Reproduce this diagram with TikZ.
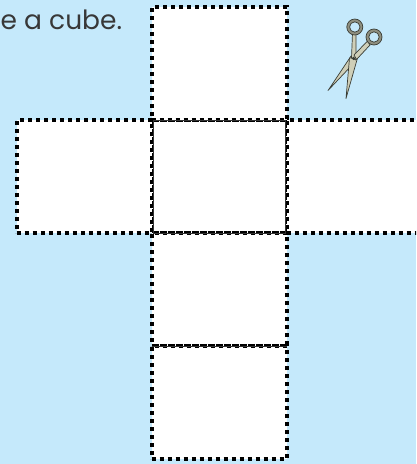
\documentclass[tikz,border=0pt]{standalone}
\usepackage{fontspec}
\setmainfont{Poppins}
\usetikzlibrary{positioning}
\definecolor{sheetblue}{HTML}{C5E9FB}
\definecolor{steelgrey}{HTML}{8F9080}
\definecolor{steelpale}{HTML}{CFCFB8}
\definecolor{steeldark}{HTML}{3A3D35}
\tikzset{
    facebox/.style={draw, fill=white, dashed, dash pattern=on 4pt off 4pt, line width=4pt, outer sep=0pt, inner sep=0pt, minimum width=135pt, minimum height=113pt},
    foldline/.style={draw=black!80, line width=1pt},
    steel/.style={fill=steelgrey, draw=steeldark, line width=0.7pt, line join=round}
}
\begin{document}
\begin{tikzpicture}[x=1pt, y=-1pt]
        % 画布
        \clip (0,0) rectangle (416,464);
        \fill[sheetblue] (0,0) rectangle (416,464);

        % 标题
        \node[anchor=base west, inner sep=0pt, text=black!78, font=\fontsize{26.5}{32}\selectfont] (title) at (0.5,29.5) {e a cube.};

        % 展开图
        \node[facebox] (midface) at (219.2,176.5) {};
        \node[facebox, above=0pt of midface] (topface) {};
        \node[facebox, left=0pt of midface] (leftface) {};
        \node[facebox, right=0pt of midface] (rightface) {};
        \node[facebox, below=0pt of midface] (lowface) {};
        \node[facebox, below=0pt of lowface] (baseface) {};

        % 折线
        \draw[foldline] ([xshift=1.5pt]midface.north west) rectangle ([xshift=-1.5pt]midface.south east);
        \draw[foldline] (lowface.south west) -- (lowface.south east);

        % 剪刀
        \draw[steel, fill=steelpale] (351,56) -- (328,90.5) -- (354,63) -- cycle;
        \draw[steel, fill=steelpale] (349.5,58) -- (346,98.5) -- (357.5,58) -- cycle;
        \draw[steel, fill=steelpale] (352.5,33) -- (351.5,58) -- (356,60) -- (356,33) -- cycle;
        \draw[steel, fill=steelpale] (367.5,41) -- (354,55) -- (356.5,59.5) -- (370,45) -- cycle;
        \draw[steel, even odd rule] (354.8,27) circle (8) (354.8,27) circle (5.2);
        \draw[steel, even odd rule] (374,37) circle (8) (374,37) circle (5.2);
        \fill[steeldark] (353.5,58.3) circle (1.8);
    \end{tikzpicture}
\end{document}
